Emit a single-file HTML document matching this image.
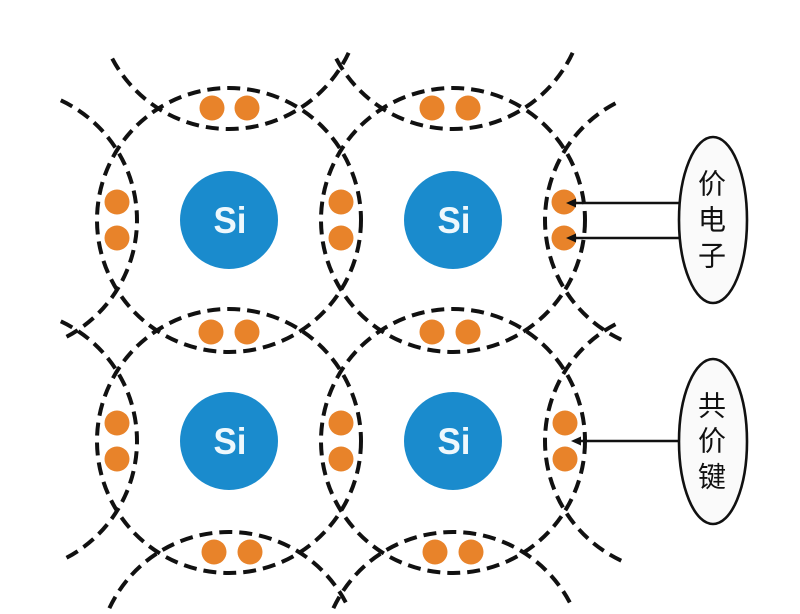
<!DOCTYPE html>
<html>
<head>
<meta charset="utf-8">
<style>
html,body{margin:0;padding:0;background:#fff;}
svg{display:block;}
</style>
</head>
<body>
<svg width="800" height="614" viewBox="0 0 800 614" xmlns="http://www.w3.org/2000/svg">
<rect width="800" height="614" fill="#fff"/>
<g fill="none" stroke="#111" stroke-width="4" stroke-dasharray="13 7">
  <!-- main circles -->
  <circle cx="229" cy="220" r="132"/>
  <circle cx="453" cy="220" r="132"/>
  <circle cx="229" cy="441" r="132"/>
  <circle cx="453" cy="441" r="132"/>
  <!-- left virtual arcs -->
  <path d="M60.79 100.37 A132 132 0 0 1 60.79 339.63"/>
  <path d="M60.79 321.37 A132 132 0 0 1 60.79 560.63"/>
  <!-- right virtual arcs -->
  <path d="M621.21 339.63 A132 132 0 0 1 621.21 100.37"/>
  <path d="M621.21 560.63 A132 132 0 0 1 621.21 321.37"/>
  <!-- top virtual arcs -->
  <path d="M348.63 52.79 A132 132 0 0 1 109.37 52.79"/>
  <path d="M572.63 52.79 A132 132 0 0 1 333.37 52.79"/>
  <!-- bottom virtual arcs -->
  <path d="M109.37 608.21 A132 132 0 0 1 348.63 608.21"/>
  <path d="M333.37 608.21 A132 132 0 0 1 572.63 608.21"/>
</g>

<!-- Si atoms -->
<g fill="#1a8bcd">
  <circle cx="229" cy="220" r="49"/>
  <circle cx="453" cy="220" r="49"/>
  <circle cx="229" cy="441" r="49"/>
  <circle cx="453" cy="441" r="49"/>
</g>
<g fill="#eef8fd" font-family="'Liberation Sans', sans-serif" font-weight="bold" font-size="37" text-anchor="middle">
  <text x="230" y="233" textLength="33" lengthAdjust="spacingAndGlyphs">Si</text>
  <text x="454" y="233" textLength="33" lengthAdjust="spacingAndGlyphs">Si</text>
  <text x="230" y="454" textLength="33" lengthAdjust="spacingAndGlyphs">Si</text>
  <text x="454" y="454" textLength="33" lengthAdjust="spacingAndGlyphs">Si</text>
</g>

<!-- electrons -->
<g fill="#e8832a">
  <circle cx="212" cy="108" r="12.5"/><circle cx="247" cy="108" r="12.5"/>
  <circle cx="432" cy="108" r="12.5"/><circle cx="468" cy="108" r="12.5"/>
  <circle cx="117" cy="202" r="12.5"/><circle cx="117" cy="238" r="12.5"/>
  <circle cx="341" cy="202" r="12.5"/><circle cx="341" cy="238" r="12.5"/>
  <circle cx="564" cy="202" r="12.5"/><circle cx="564" cy="238" r="12.5"/>
  <circle cx="211" cy="332" r="12.5"/><circle cx="247" cy="332" r="12.5"/>
  <circle cx="432" cy="332" r="12.5"/><circle cx="468" cy="332" r="12.5"/>
  <circle cx="117" cy="423" r="12.5"/><circle cx="117" cy="459" r="12.5"/>
  <circle cx="341" cy="423" r="12.5"/><circle cx="341" cy="459" r="12.5"/>
  <circle cx="565" cy="423" r="12.5"/><circle cx="565" cy="459" r="12.5"/>
  <circle cx="214" cy="552" r="12.5"/><circle cx="250" cy="552" r="12.5"/>
  <circle cx="435" cy="552" r="12.5"/><circle cx="471" cy="552" r="12.5"/>
</g>

<!-- arrows -->
<g stroke="#111" stroke-width="2.5">
  <line x1="680" y1="203" x2="574" y2="203"/>
  <line x1="680" y1="238" x2="574" y2="238"/>
  <line x1="680" y1="441" x2="578" y2="441"/>
</g>
<g fill="#111">
  <polygon points="566,203 576,198.5 576,207.5"/>
  <polygon points="566,238 576,233.5 576,242.5"/>
  <polygon points="571,441 581,436.5 581,445.5"/>
</g>

<!-- label ellipses -->
<g fill="#fafafa" stroke="#111" stroke-width="2.6">
  <ellipse cx="713" cy="220" rx="34" ry="83"/>
  <ellipse cx="713" cy="441.5" rx="34" ry="82.5"/>
</g>
<g fill="#111" font-family="'Liberation Sans', 'Noto Sans CJK SC', sans-serif" font-size="28" text-anchor="middle" dominant-baseline="central">
  <text x="712" y="184">价</text>
  <text x="712" y="220">电</text>
  <text x="712" y="256">子</text>
  <text x="712" y="406">共</text>
  <text x="712" y="441">价</text>
  <text x="712" y="477">键</text>
</g>
</svg>
</body>
</html>
